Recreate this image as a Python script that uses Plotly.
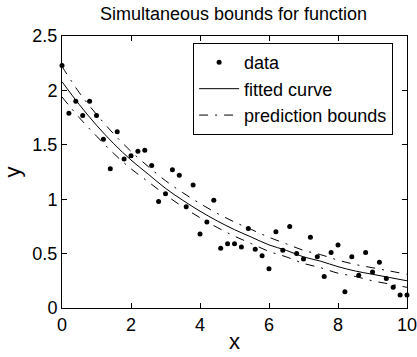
import plotly.graph_objects as go

# ---- data ----
x_data = [0.0, 0.2, 0.4, 0.6, 0.8, 1.0, 1.2, 1.4, 1.6, 1.8,
          2.0, 2.2, 2.4, 2.6, 2.8, 3.0, 3.2, 3.4, 3.6, 3.8,
          4.0, 4.2, 4.4, 4.6, 4.8, 5.0, 5.2, 5.4, 5.6, 5.8,
          6.0, 6.2, 6.4, 6.6, 6.8, 7.0, 7.2, 7.4, 7.6, 7.8,
          8.0, 8.2, 8.4, 8.6, 8.8, 9.0, 9.2, 9.4, 9.6, 9.8, 10.0]
y_data = [2.23, 1.79, 1.90, 1.77, 1.90, 1.77, 1.55, 1.28, 1.62, 1.37,
          1.40, 1.44, 1.45, 1.31, 0.98, 1.05, 1.27, 1.22, 0.93, 1.13,
          0.68, 0.79, 0.99, 0.55, 0.59, 0.59, 0.56, 0.73, 0.54, 0.48,
          0.36, 0.70, 0.53, 0.75, 0.50, 0.45, 0.65, 0.47, 0.29, 0.51,
          0.58, 0.15, 0.47, 0.30, 0.51, 0.33, 0.42, 0.27, 0.19, 0.12, 0.12]

x_curve = [0, 0.5, 1, 1.5, 2, 2.5, 3, 3.5, 4, 4.5, 5,
           5.5, 6, 6.5, 7, 7.5, 8, 8.5, 9, 9.5, 10]
y_fit = [2.08, 1.87, 1.68, 1.51, 1.36, 1.23, 1.10, 0.99, 0.89, 0.80, 0.72,
         0.65, 0.58, 0.53, 0.47, 0.43, 0.38, 0.34, 0.31, 0.28, 0.25]
y_upper = [2.22, 1.98, 1.78, 1.60, 1.44, 1.30, 1.17, 1.06, 0.96, 0.87, 0.79,
           0.72, 0.65, 0.59, 0.53, 0.49, 0.44, 0.40, 0.37, 0.34, 0.31]
y_lower = [1.94, 1.75, 1.58, 1.42, 1.28, 1.16, 1.04, 0.93, 0.83, 0.74, 0.66,
           0.59, 0.52, 0.47, 0.41, 0.37, 0.32, 0.29, 0.25, 0.22, 0.19]

x_ticks = [0, 2, 4, 6, 8, 10]
y_ticks = [0, 0.5, 1, 1.5, 2, 2.5]
y_tick_labels = ["0", "0.5", "1", "1.5", "2", "2.5"]

FONT = "Liberation Sans, Arial, sans-serif"
DASHDOT = "9px,7px,2px,7px"

fig = go.Figure()
fig.add_trace(go.Scatter(x=x_data, y=y_data, mode="markers", name="data",
                         marker=dict(color="black", size=5),
                         cliponaxis=False))
fig.add_trace(go.Scatter(x=x_curve, y=y_fit, mode="lines", name="fitted curve",
                         line=dict(color="black", width=1, shape="spline")))
fig.add_trace(go.Scatter(x=x_curve, y=y_upper, mode="lines", name="prediction bounds",
                         legendgroup="pb",
                         line=dict(color="black", width=1, dash=DASHDOT, shape="spline")))
fig.add_trace(go.Scatter(x=x_curve, y=y_lower, mode="lines", name="prediction bounds",
                         legendgroup="pb", showlegend=False,
                         line=dict(color="black", width=1, dash=DASHDOT, shape="spline")))

axis_common = dict(showgrid=False, zeroline=False, showline=True, linecolor="black",
                   linewidth=1, mirror="ticks", ticks="inside", ticklen=5,
                   tickcolor="black", automargin=False, ticklabeloverflow="allow",
                   tickfont=dict(size=18, color="black", family=FONT))

fig.update_layout(
    template="simple_white",
    width=417, height=357,
    margin=dict(l=62, r=10, t=36, b=49, autoexpand=False),
    paper_bgcolor="white", plot_bgcolor="white",
    font=dict(family=FONT, size=18, color="black"),
    title=dict(text="Simultaneous bounds for function", x=0.56, xanchor="center",
               y=0.963, yanchor="middle", font=dict(size=18, family=FONT, color="black")),
    xaxis=dict(range=[0, 10], tickvals=x_ticks, title=dict(text="x", standoff=0), **axis_common),
    yaxis=dict(range=[0, 2.5], tickvals=y_ticks, ticktext=y_tick_labels,
               title=dict(text="y", standoff=6), **axis_common),
    legend=dict(x=0.38, y=0.974, xanchor="left", yanchor="top",
                bordercolor="black", borderwidth=1, bgcolor="white",
                font=dict(size=18, family=FONT), itemwidth=40,
                tracegroupgap=0),
    showlegend=True,
)

fig.write_html("out.html", config={"displayModeBar": False},
               post_script="document.body.style.margin='0';")
